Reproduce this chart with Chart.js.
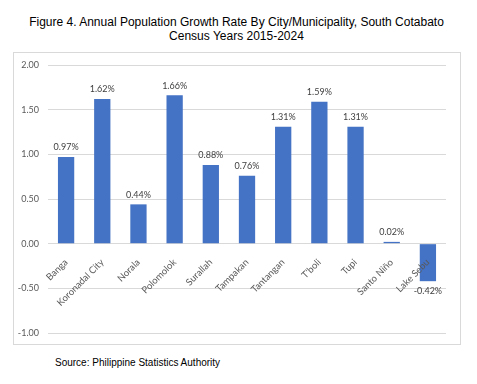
<!DOCTYPE html>
<html>
<head>
<meta charset="utf-8">
<script src="https://cdn.jsdelivr.net/npm/chart.js@4"></script>
<style>
  body { margin: 0; background: #fff; width: 477px; height: 384px; position: relative; font-family: "Liberation Sans", Arial, sans-serif; }
  #title { position: absolute; left: 0; width: 473px; top: 15px; text-align: center; font-size: 12px; line-height: 14px; color: #000; }
  #box { position: absolute; left: 13px; top: 52px; width: 446px; height: 291px; border: 1px solid #d9d9d9; }
  #source { position: absolute; left: 55px; top: 357px; font-size: 10px; color: #000; }
</style>
</head>
<body>
<div id="title">Figure 4. Annual Population Growth Rate By City/Municipality, South Cotabato<br>Census Years 2015-2024</div>
<div id="box"><canvas id="chart"></canvas></div>
<div id="source">Source: Philippine Statistics Authority</div>
<script>
const cities = ["Banga", "Koronadal City", "Norala", "Polomolok", "Surallah", "Tampakan",
  "Tantangan", "T'boli", "Tupi", "Santo Niño", "Lake Sebu"];
const growthRates = [0.97, 1.62, 0.44, 1.66, 0.88, 0.76, 1.31, 1.59, 1.31, 0.02, -0.42];
const yTicks = [-1.00, -0.50, 0.00, 0.50, 1.00, 1.50, 2.00];

const TICK_FONT = { family: "Lato, 'Liberation Sans', sans-serif", size: 9 };

// value labels above (or below, for negatives) each bar
const valueLabels = {
  id: "valueLabels",
  afterDatasetsDraw(chart) {
    const ctx = chart.ctx;
    const meta = chart.getDatasetMeta(0);
    ctx.save();
    ctx.font = "9px Lato, 'Liberation Sans', sans-serif";
    ctx.fillStyle = "#404040";
    ctx.textAlign = "center";
    meta.data.forEach((bar, i) => {
      const v = growthRates[i];
      const txt = v.toFixed(2) + "%";
      if (v >= 0) {
        ctx.textBaseline = "bottom";
        ctx.fillText(txt, bar.x, bar.y - 5);
      } else {
        ctx.textBaseline = "top";
        ctx.fillText(txt, bar.x, bar.y + 5);
      }
    });
    ctx.restore();
  }
};

new Chart(document.getElementById("chart"), {
  type: "bar",
  data: {
    labels: cities,
    datasets: [{
      data: growthRates,
      backgroundColor: "#4472c4",
      categoryPercentage: 1,
      barPercentage: 0.45
    }]
  },
  options: {
    responsive: true,
    maintainAspectRatio: false,
    animation: false,
    layout: { padding: { top: 12, bottom: 11, right: 14, left: 0 } },
    plugins: { legend: { display: false }, tooltip: { enabled: false } },
    scales: {
      x: {
        position: { y: 0 },
        grid: { display: false },
        border: { display: false },
        ticks: { z: 1, minRotation: 45, maxRotation: 45, autoSkip: false, padding: 5, color: "#595959",
          font: { family: TICK_FONT.family, size: 9.5 } },
        afterFit(scale) { scale.height = 0; }
      },
      y: {
        min: -1,
        max: 2,
        afterBuildTicks(scale) { scale.ticks = yTicks.map(v => ({ value: v })); },
        grid: { color: "#d9d9d9", drawTicks: false },
        border: { display: false },
        ticks: { padding: 9, color: "#595959", font: TICK_FONT, callback: v => v.toFixed(2) },
        afterFit(scale) {
          scale.width = 34;
          scale.paddingTop = 0;
          scale.paddingBottom = 0;
        }
      }
    }
  },
  plugins: [valueLabels]
});
</script>
</body>
</html>
